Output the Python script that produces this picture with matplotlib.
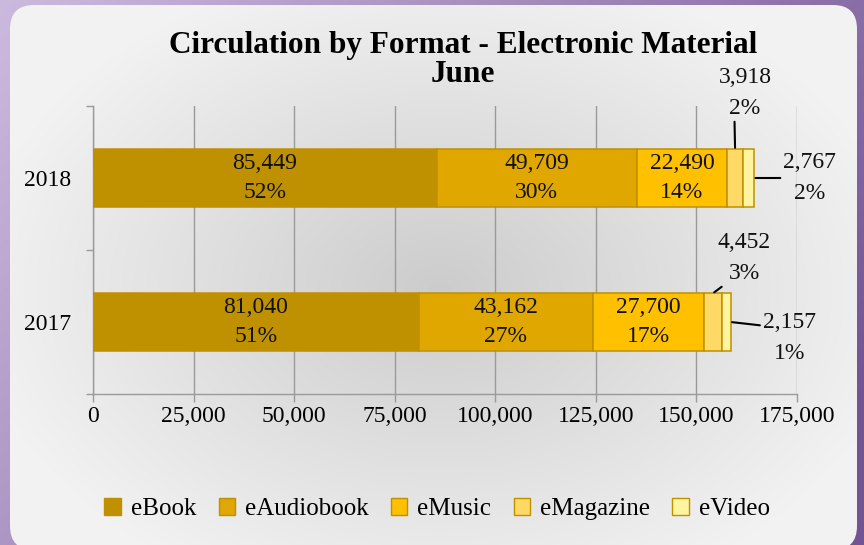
import numpy as np
import matplotlib
matplotlib.use("Agg")
import matplotlib.pyplot as plt
from matplotlib.patches import FancyBboxPatch, Patch
from matplotlib.ticker import FuncFormatter

# Données
years = ["2017", "2018"]
formats = ["eBook", "eAudiobook", "eMusic", "eMagazine", "eVideo"]
values_2017 = [81040, 43162, 27700, 4452, 2157]
values_2018 = [85449, 49709, 22490, 3918, 2767]
x_ticks = [0, 25000, 50000, 75000, 100000, 125000, 150000, 175000]

colors = ["#BF9000", "#DFA700", "#FFC000", "#FFD966", "#FFF5A0"]
edge = "#BF9000"
grid_col = "#9a9a9a"

plt.rcParams["font.family"] = ["Liberation Serif", "DejaVu Serif"]

W, H = 864, 545
fig = plt.figure(figsize=(W / 100, H / 100), dpi=100)

# fond violet + panneau arrondi en dégradé radial
bg = fig.add_axes([0, 0, 1, 1], zorder=0)
bg.set_xlim(0, W)
bg.set_ylim(H, 0)
bg.axis("off")
xx, yy = np.meshgrid(np.linspace(0, 1, 300), np.linspace(0, 1, 300))
t = np.clip(0.75 * xx + 0.35 * yy, 0, 1)
c0 = np.array([0.80, 0.73, 0.87])
c1 = np.array([0.45, 0.33, 0.58])
bg.imshow(c0 + (c1 - c0) * t[..., None], extent=(0, W, H, 0), aspect="auto")

panel = FancyBboxPatch((10, 5), 847, 545, boxstyle="round,pad=0,rounding_size=24",
                       facecolor="none", edgecolor="none")
bg.add_patch(panel)
px, py = np.meshgrid(np.linspace(10, 857, 400), np.linspace(5, 550, 300))
r = np.sqrt(((px - 440) / 470) ** 2 + ((py - 290) / 330) ** 2)
r = np.clip(r, 0, 1)
gray = 0.80 + (0.95 - 0.80) * r
im = bg.imshow(np.dstack([gray, gray, gray]), extent=(10, 857, 550, 5), aspect="auto")
im.set_clip_path(panel)

# zone de tracé
ax = fig.add_axes([93 / W, 1 - 394 / H, 704 / W, 288 / H], zorder=1)
ax.patch.set_alpha(0)

data = {"2017": values_2017, "2018": values_2018}
ypos = {"2017": 0, "2018": 1}
bar_h = 0.4
ends = {}
for yr in years:
    vals = data[yr]
    total = sum(vals)
    left = 0
    ends[yr] = []
    for i, v in enumerate(vals):
        ax.barh(ypos[yr], v, left=left, height=bar_h, color=colors[i],
                edgecolor=edge, linewidth=1.1, zorder=3)
        pct = round(v / total * 100)
        ends[yr].append((left, left + v, pct))
        if i < 3:
            ax.text(left + v / 2, ypos[yr], f"{v:,}\n{pct}%", ha="center", va="center",
                    fontsize=17, linespacing=1.5, color="#111111", zorder=4)
        left += v

# étiquettes extérieures avec lignes de rappel (décalages en pixels)
outer = [
    ("2018", 3, "mid_top", (10, 56), (0.3, 0.0), "center"),
    ("2018", 4, "right", (29, 0), (0.0, 0.5), "left"),
    ("2017", 3, "mid_top", (31, 35), (0.15, 0.0), "center"),
    ("2017", 4, "right", (32, -16), (0.0, 0.74), "left"),
]
for yr, i, anchor, off, rel, ha in outer:
    l0, l1, pct = ends[yr][i]
    v = data[yr][i]
    if anchor == "mid_top":
        xy = ((l0 + l1) / 2, ypos[yr] + bar_h / 2)
    else:
        xy = (l1, ypos[yr])
    ax.annotate(f"{v:,}\n{pct}%", xy=xy, xytext=off, textcoords="offset pixels",
                ha=ha, va="center", multialignment="center", fontsize=17, linespacing=1.6,
                color="#111111", zorder=4, annotation_clip=False,
                arrowprops=dict(arrowstyle="-", color="black", lw=1.5, relpos=rel,
                                shrinkA=0, shrinkB=1))

ax.set_xlim(0, 175000)
ax.set_ylim(-0.5, 1.5)
ax.set_xticks(x_ticks)
ax.xaxis.set_major_formatter(FuncFormatter(lambda v, p: f"{int(v):,}"))
ax.set_yticks([ypos[y] for y in years])
ax.set_yticklabels(years)
ax.set_yticks([-0.5, 0.5, 1.5], minor=True)
ax.tick_params(axis="y", which="major", length=0, pad=16, labelsize=17)
ax.tick_params(axis="y", which="minor", length=5, width=1.0, color=grid_col, direction="out")
ax.tick_params(axis="x", length=6, width=1.0, color=grid_col, pad=3, labelsize=17)
for s in ["top", "right"]:
    ax.spines[s].set_visible(False)
for s in ["left", "bottom"]:
    ax.spines[s].set_color(grid_col)
    ax.spines[s].set_linewidth(1.0)
ax.xaxis.grid(True, color=grid_col, linewidth=1.0)
ax.set_axisbelow(True)

# titre sur deux lignes (deux textes séparés)
fig.text(463 / W, 1 - 45 / H, "Circulation by Format - Electronic Material",
         ha="center", va="center", fontsize=22.5, fontweight="bold")
fig.text(463 / W, 1 - 74 / H, "June",
         ha="center", va="center", fontsize=22.5, fontweight="bold")

handles = [Patch(facecolor=c, edgecolor=edge, linewidth=1.0) for c in colors]
fig.legend(handles, formats, ncol=5, loc="center", bbox_to_anchor=(437 / W, 1 - 509 / H),
           frameon=False, fontsize=18, handlelength=0.65, handleheight=0.65,
           handletextpad=0.4, columnspacing=0.9)

fig.savefig("out.png", dpi=100)
